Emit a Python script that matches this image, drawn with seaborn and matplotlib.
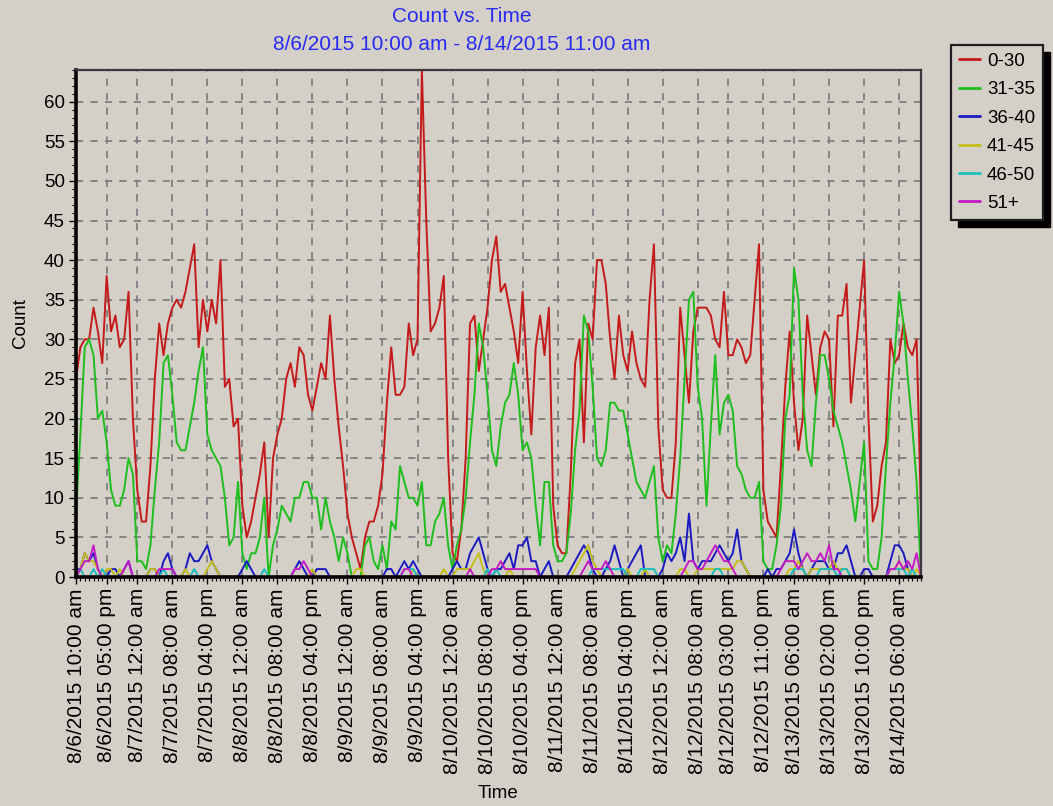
import numpy as np
import pandas as pd
import matplotlib
matplotlib.use("Agg")
import matplotlib.pyplot as plt
from matplotlib.patches import Rectangle
from matplotlib.ticker import MultipleLocator, FixedLocator
import seaborn as sns

# ---------------- data (hourly counts from 8/6/2015 10:00 am) ----------------
series_names = ["0-30", "31-35", "36-40", "41-45", "46-50", "51+"]

count_0_30 = [
    25, 29, 30, 30, 34, 31, 27, 38, 31, 33, 29, 30, 36, 20, 11, 7, 7, 14, 25, 32,
    28, 32, 34, 35, 34, 36, 39, 42, 29, 35, 31, 35, 32, 40, 24, 25, 19, 20, 9, 5,
    7, 10, 13, 17, 5, 15, 18, 20, 25, 27, 24, 29, 28, 23, 21, 24, 27, 25, 33, 25,
    19, 14, 8, 5, 3, 1, 5, 7, 7, 9, 13, 22, 29, 23, 23, 24, 32, 28, 30, 64,
    45, 31, 32, 34, 38, 15, 3, 2, 6, 15, 32, 33, 26, 30, 34, 40, 43, 36, 37, 34,
    31, 27, 36, 26, 18, 29, 33, 28, 34, 9, 4, 3, 3, 13, 27, 30, 17, 32, 30, 40,
    40, 37, 30, 25, 33, 28, 26, 31, 27, 25, 24, 35, 42, 19, 11, 10, 10, 17, 34, 28,
    22, 31, 34, 34, 34, 33, 30, 29, 36, 28, 28, 30, 29, 27, 28, 35, 42, 11, 7, 6,
    5, 14, 24, 31, 22, 16, 20, 33, 28, 23, 29, 31, 30, 19, 33, 33, 37, 22, 28, 34,
    40, 20, 7, 9, 14, 17, 30, 27, 28, 32, 29, 28, 30, 8,
]
count_31_35 = [
    8, 18, 29, 30, 28, 20, 21, 17, 11, 9, 9, 11, 15, 13, 2, 2, 1, 4, 11, 17,
    27, 28, 23, 17, 16, 16, 19, 22, 26, 29, 18, 16, 15, 14, 10, 4, 5, 12, 3, 1,
    3, 3, 5, 10, 0, 4, 6, 9, 8, 7, 10, 10, 12, 12, 10, 10, 6, 10, 7, 5,
    2, 5, 3, 0, 0, 0, 4, 5, 2, 1, 4, 1, 7, 6, 14, 12, 10, 10, 9, 12,
    4, 4, 7, 8, 10, 4, 1, 4, 6, 10, 17, 23, 32, 29, 23, 16, 14, 19, 22, 23,
    27, 23, 16, 17, 15, 9, 4, 12, 12, 4, 2, 2, 3, 8, 16, 21, 33, 31, 24, 15,
    14, 16, 22, 22, 21, 21, 18, 15, 12, 11, 10, 12, 14, 5, 2, 4, 3, 8, 15, 25,
    35, 36, 24, 20, 9, 19, 28, 18, 22, 23, 21, 14, 13, 11, 10, 10, 12, 2, 1, 1,
    4, 9, 20, 23, 39, 35, 23, 16, 14, 22, 28, 28, 25, 21, 19, 17, 14, 11, 7, 12,
    17, 2, 1, 1, 5, 14, 22, 28, 36, 32, 25, 19, 12, 0,
]
count_36_40 = [
    1, 1, 3, 2, 3, 1, 0, 0, 1, 1, 0, 1, 2, 0, 0, 0, 0, 1, 1, 0,
    2, 3, 1, 0, 0, 1, 3, 2, 2, 3, 4, 2, 1, 0, 0, 0, 0, 0, 1, 2,
    1, 0, 0, 0, 0, 0, 0, 0, 0, 0, 1, 2, 1, 0, 0, 1, 1, 1, 0, 0,
    0, 0, 0, 0, 0, 0, 0, 0, 0, 0, 0, 1, 1, 0, 1, 2, 1, 2, 1, 0,
    0, 0, 0, 0, 0, 0, 1, 2, 1, 1, 3, 4, 5, 3, 1, 0, 1, 1, 2, 3,
    1, 4, 4, 5, 2, 2, 0, 1, 2, 0, 0, 0, 0, 1, 2, 3, 4, 3, 1, 0,
    0, 1, 2, 4, 2, 0, 1, 2, 3, 4, 0, 0, 0, 0, 1, 3, 2, 3, 5, 2,
    8, 2, 1, 2, 2, 2, 3, 4, 3, 2, 3, 6, 2, 1, 0, 0, 0, 0, 1, 0,
    1, 1, 2, 3, 6, 3, 1, 0, 1, 2, 2, 2, 1, 1, 3, 3, 4, 2, 0, 0,
    1, 1, 0, 0, 0, 0, 2, 4, 4, 3, 1, 0, 0, 0,
]
count_41_45 = [
    0, 1, 3, 2, 2, 1, 0, 1, 1, 0, 1, 0, 0, 0, 0, 0, 0, 1, 1, 0,
    0, 0, 0, 0, 0, 1, 0, 0, 0, 0, 1, 2, 1, 0, 0, 0, 0, 0, 0, 0,
    0, 0, 0, 0, 0, 0, 0, 0, 0, 0, 0, 0, 0, 0, 1, 0, 0, 0, 0, 0,
    0, 0, 0, 0, 1, 1, 0, 0, 0, 0, 0, 0, 0, 0, 0, 0, 0, 1, 0, 0,
    0, 0, 0, 0, 1, 0, 0, 1, 1, 1, 1, 2, 3, 1, 0, 0, 0, 0, 0, 1,
    0, 0, 0, 0, 0, 0, 0, 0, 0, 0, 0, 0, 0, 0, 1, 2, 3, 4, 2, 1,
    0, 0, 0, 0, 0, 0, 1, 0, 0, 0, 1, 0, 0, 0, 0, 0, 0, 0, 1, 1,
    0, 0, 1, 1, 1, 1, 1, 1, 1, 1, 1, 2, 2, 1, 0, 0, 0, 0, 0, 0,
    0, 0, 0, 1, 1, 2, 1, 0, 1, 1, 1, 1, 1, 2, 1, 1, 1, 0, 0, 0,
    0, 0, 0, 0, 0, 0, 1, 1, 2, 1, 1, 0, 1, 0,
]
count_46_50 = [
    0, 1, 0, 0, 1, 0, 1, 0, 0, 0, 0, 0, 0, 0, 0, 0, 0, 0, 0, 0,
    1, 0, 0, 0, 0, 0, 0, 1, 0, 0, 0, 0, 0, 0, 0, 0, 0, 0, 0, 0,
    0, 0, 0, 1, 0, 0, 0, 0, 0, 0, 0, 0, 0, 0, 0, 0, 0, 0, 0, 0,
    0, 0, 0, 0, 0, 0, 0, 0, 0, 0, 0, 0, 0, 0, 0, 1, 1, 1, 0, 0,
    0, 0, 0, 0, 0, 0, 0, 0, 0, 0, 0, 0, 0, 0, 1, 0, 1, 0, 0, 0,
    0, 0, 0, 0, 0, 0, 0, 0, 0, 0, 0, 0, 0, 0, 0, 0, 0, 0, 1, 1,
    1, 1, 1, 1, 1, 1, 0, 0, 0, 1, 1, 1, 1, 0, 0, 0, 0, 0, 0, 0,
    0, 0, 0, 0, 0, 0, 1, 1, 0, 0, 0, 0, 0, 0, 0, 0, 0, 0, 0, 0,
    0, 0, 0, 0, 1, 1, 1, 0, 0, 0, 1, 1, 1, 1, 0, 1, 1, 0, 0, 0,
    0, 0, 0, 0, 0, 0, 1, 1, 1, 1, 0, 1, 0, 0,
]
count_51_plus = [
    0, 1, 2, 2, 4, 1, 0, 0, 0, 0, 0, 1, 2, 0, 0, 0, 0, 0, 0, 1,
    1, 1, 1, 0, 0, 0, 0, 0, 0, 0, 0, 0, 0, 0, 0, 0, 0, 0, 0, 0,
    0, 0, 0, 0, 0, 0, 0, 0, 0, 0, 1, 1, 2, 1, 0, 0, 0, 0, 0, 0,
    0, 0, 0, 0, 0, 0, 0, 0, 0, 0, 0, 0, 0, 0, 0, 1, 1, 0, 0, 0,
    0, 0, 0, 0, 0, 0, 0, 0, 0, 0, 1, 0, 0, 0, 0, 1, 1, 2, 1, 1,
    1, 1, 1, 1, 1, 1, 0, 0, 0, 0, 0, 0, 0, 0, 0, 0, 1, 2, 1, 1,
    1, 2, 1, 0, 0, 0, 0, 0, 0, 0, 0, 0, 0, 0, 0, 0, 0, 0, 0, 1,
    2, 2, 1, 1, 2, 3, 4, 3, 2, 2, 1, 0, 0, 0, 0, 0, 0, 0, 0, 0,
    0, 1, 2, 2, 2, 1, 2, 3, 2, 2, 3, 2, 4, 1, 1, 0, 0, 0, 0, 0,
    0, 0, 0, 0, 0, 0, 1, 1, 2, 1, 2, 1, 3, 0,
]

tick_hours = [0, 7, 14, 22, 30, 38, 46, 54, 62, 70, 78, 86, 94, 102, 110,
              118, 126, 134, 142, 149, 157, 164, 172, 180, 188]
tick_labels = [
    "8/6/2015 10:00 am", "8/6/2015 05:00 pm", "8/7/2015 12:00 am",
    "8/7/2015 08:00 am", "8/7/2015 04:00 pm", "8/8/2015 12:00 am",
    "8/8/2015 08:00 am", "8/8/2015 04:00 pm", "8/9/2015 12:00 am",
    "8/9/2015 08:00 am", "8/9/2015 04:00 pm", "8/10/2015 12:00 am",
    "8/10/2015 08:00 am", "8/10/2015 04:00 pm", "8/11/2015 12:00 am",
    "8/11/2015 08:00 am", "8/11/2015 04:00 pm", "8/12/2015 12:00 am",
    "8/12/2015 08:00 am", "8/12/2015 03:00 pm", "8/12/2015 11:00 pm",
    "8/13/2015 06:00 am", "8/13/2015 02:00 pm", "8/13/2015 10:00 pm",
    "8/14/2015 06:00 am",
]

title_line1 = "Count vs. Time"
title_line2 = "8/6/2015 10:00 am - 8/14/2015 11:00 am"

# ---------------- styling ----------------
line_colors = ["#C41A1A", "#1DBE1D", "#1A1AC0", "#C4BE1A", "#1ABEBE", "#C41AC4"]
bg = "#D4D0C8"
title_color = "#2A2AF0"

sns.set_style("ticks")
plt.rcParams["font.family"] = ["Liberation Sans", "DejaVu Sans"]
plt.rcParams["text.color"] = "black"
plt.rcParams["axes.labelcolor"] = "black"
plt.rcParams["xtick.color"] = "black"
plt.rcParams["ytick.color"] = "black"

W, H = 1053, 806
fig = plt.figure(figsize=(W / 100, H / 100), dpi=100, facecolor=bg)
ax_l, ax_r, ax_t, ax_b = 76, 921, 70, 577
ax = fig.add_axes([ax_l / W, 1 - ax_b / H, (ax_r - ax_l) / W, (ax_b - ax_t) / H])
ax.set_facecolor(bg)

n = len(count_0_30)
wide = pd.DataFrame({
    "hour": np.arange(n),
    "0-30": count_0_30,
    "31-35": count_31_35,
    "36-40": count_36_40,
    "41-45": count_41_45,
    "46-50": count_46_50,
    "51+": count_51_plus,
})
long = wide.melt(id_vars="hour", var_name="range", value_name="count")

sns.lineplot(data=long, x="hour", y="count", hue="range", hue_order=series_names,
             palette=line_colors, linewidth=1.4, ax=ax, legend=True,
             estimator=None, sort=True)

ax.set_xlim(0, n - 1)
ax.set_ylim(0, 64)
ax.yaxis.set_major_locator(MultipleLocator(5))
ax.yaxis.set_minor_locator(MultipleLocator(1))
ax.xaxis.set_major_locator(FixedLocator(tick_hours))
ax.xaxis.set_minor_locator(MultipleLocator(1))
ax.set_xticklabels(tick_labels, rotation=90, va="top", ha="center")

ax.tick_params(axis="x", which="major", direction="out", length=5, width=1,
               labelsize=15, pad=3)
ax.tick_params(axis="y", which="major", direction="out", length=5, width=1,
               labelsize=13.5, pad=3)
ax.tick_params(axis="both", which="minor", direction="out", length=3, width=0.8)

ax.set_axisbelow(True)
ax.grid(True, which="major", color="#7F7F7F", linestyle=(0, (4, 4)), linewidth=1.3)

for side in ["left", "bottom"]:
    ax.spines[side].set_color("black")
    ax.spines[side].set_linewidth(2.6)
for side in ["top", "right"]:
    ax.spines[side].set_color("#3A3A3A")
    ax.spines[side].set_linewidth(1.6)

ax.set_xlabel("Time", fontsize=13.5, va="center")
ax.xaxis.set_label_coords(0.5, (ax_b - 793) / (ax_b - ax_t))
ax.set_ylabel("Count", fontsize=13.5, va="center")
ax.yaxis.set_label_coords((20 - ax_l) / (ax_r - ax_l), 0.5)

fig.text(462 / W, 1 - 17 / H, title_line1, color=title_color, fontsize=15,
         ha="center", va="center")
fig.text(462 / W, 1 - 45 / H, title_line2, color=title_color, fontsize=15,
         ha="center", va="center")

handles, labels = ax.get_legend_handles_labels()
ax.get_legend().remove()
for h in handles:
    h.set_linewidth(2)
leg = fig.legend(handles, labels, loc="upper left",
                 bbox_to_anchor=(951 / W, 1 - 45 / H), borderaxespad=0,
                 frameon=True, fancybox=False, facecolor=bg, edgecolor="#202020",
                 framealpha=1, fontsize=13.5, handlelength=1.1, handletextpad=0.4,
                 labelspacing=0.6, borderpad=0.42)
leg.get_frame().set_linewidth(1.6)
leg.set_zorder(10)

# drop shadow behind the legend box
fig.canvas.draw()
bb = leg.get_window_extent().transformed(fig.transFigure.inverted())
off_x, off_y = 7 / W, 7 / H
shadow = Rectangle((bb.x0 + off_x, bb.y0 - off_y), bb.width, bb.height,
                   transform=fig.transFigure, facecolor="black", edgecolor="black",
                   zorder=9)
fig.add_artist(shadow)

fig.savefig("out.png", dpi=100, facecolor=bg)
